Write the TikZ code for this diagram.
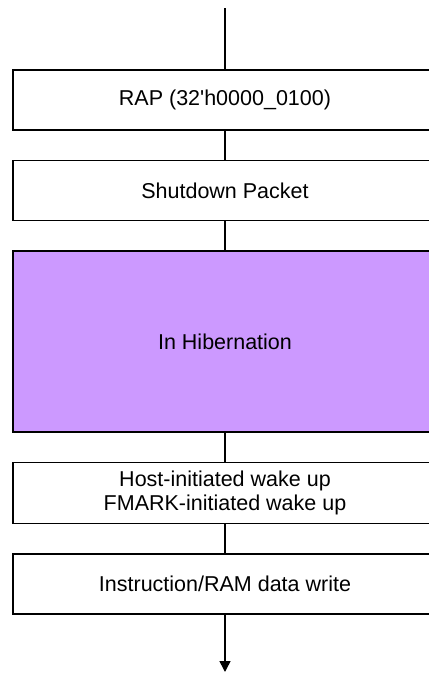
\documentclass[tikz,border=0pt]{standalone}
\usepackage{fontspec}
\setmainfont{Liberation Sans}
\usetikzlibrary{arrows.meta,positioning}
\definecolor{hiber}{RGB}{204,153,255}

\begin{document}
\begin{tikzpicture}[x=1pt,y=1pt,>={Triangle[length=11pt,width=11pt]},
  line width=1.5pt,font=\fontsize{21.5}{24}\selectfont,node distance=30.5pt,
  stage/.style={draw,minimum width=424pt,minimum height=60pt,inner sep=0pt,outer sep=0pt,align=center},
  sleep/.style={stage,minimum height=181pt,fill=hiber}]
\useasboundingbox (0,0) rectangle (429,-673);
\coordinate (top) at (225,-8);
\node[stage] (rap) at (225,-100) {RAP (32\textquotesingle h0000\_0100)};
\node[stage,below=of rap] (shut) {Shutdown Packet};
\node[sleep,below=of shut] (hib) {In Hibernation};
\node[stage,minimum height=61pt,below=of hib] (wake) {Host-initiated wake up\\FMARK-initiated wake up};
\node[stage,below=of wake] (write) {Instruction/RAM data write};
\coordinate (bot) at (225,-672);
\draw (top) -- (rap);
\draw (rap) -- (shut);
\draw (shut) -- (hib);
\draw (hib) -- (wake);
\draw (wake) -- (write);
\draw[->] (write) -- (bot);
\end{tikzpicture}
\end{document}
